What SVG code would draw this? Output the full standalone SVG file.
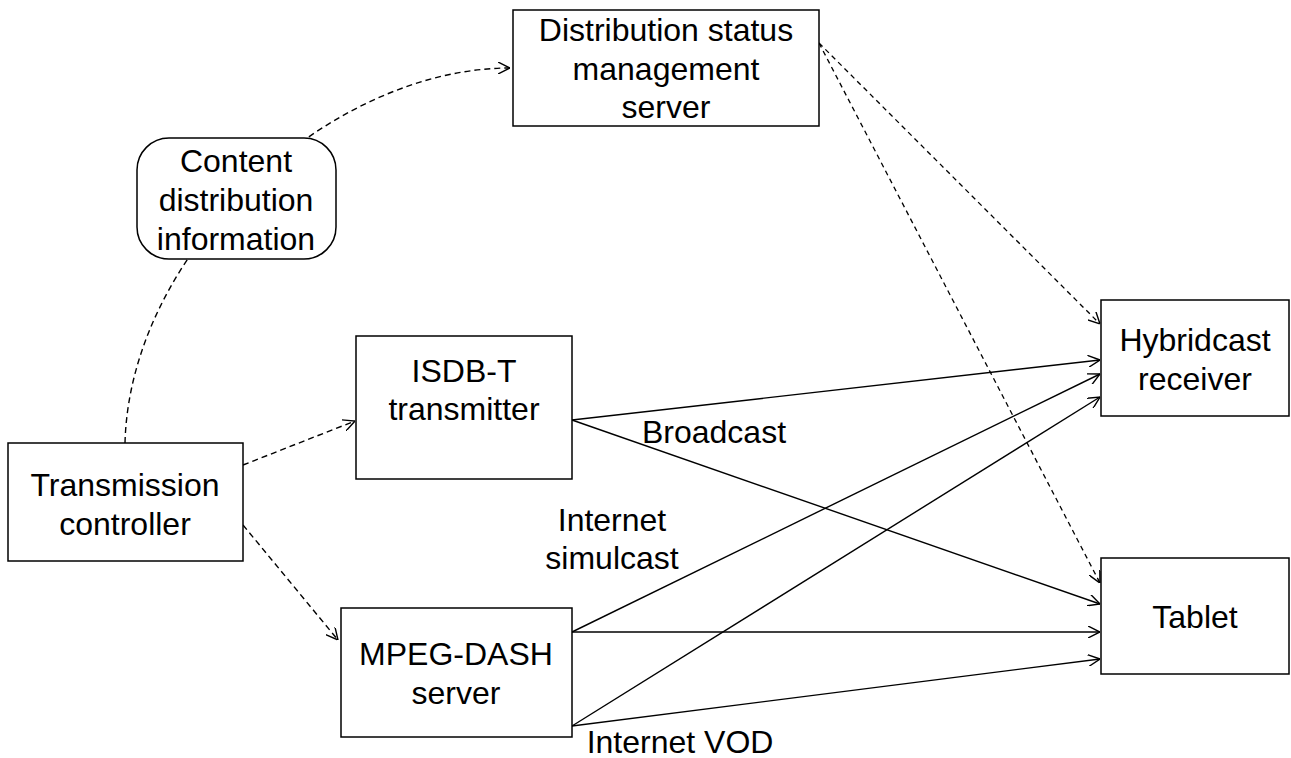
<svg xmlns="http://www.w3.org/2000/svg" width="1291" height="758" viewBox="0 0 1291 758">
  <style>
    .box { fill: #fff; stroke: #000; stroke-width: 1.5; }
    .lbl { font-family: "Liberation Sans", Arial, sans-serif; font-size: 32px; fill: #000; text-anchor: middle; }
    .solid { fill: none; stroke: #000; stroke-width: 1.4; }
    .dash { fill: none; stroke: #000; stroke-width: 1.4; stroke-dasharray: 6 4; }
    .dash2 { fill: none; stroke: #000; stroke-width: 1.3; stroke-dasharray: 5 4; }
  </style>
  <defs>
    <marker id="arr" viewBox="0 0 12 12" markerWidth="12" markerHeight="12" refX="12" refY="6" orient="auto" markerUnits="userSpaceOnUse">
      <path d="M0,0 L12,6 L0,12" fill="none" stroke="#000" stroke-width="1.4"/>
    </marker>
  </defs>
  <rect width="1291" height="758" fill="#fff"/>

  <!-- connectors -->
  <g id="connectors">
    <path class="dash" d="M125,443 C130,250 330,68 510,68" marker-end="url(#arr)"/>
    <line class="dash" x1="243" y1="465" x2="355" y2="421" marker-end="url(#arr)"/>
    <line class="dash" x1="243" y1="525" x2="338" y2="640" marker-end="url(#arr)"/>
    <line class="dash2" x1="819" y1="43" x2="1100" y2="324" marker-end="url(#arr)"/>
    <line class="dash2" x1="819" y1="43" x2="1100" y2="583" marker-end="url(#arr)"/>
    <line class="solid" x1="572" y1="420" x2="1100" y2="360" marker-end="url(#arr)"/>
    <line class="solid" x1="572" y1="420" x2="1100" y2="604" marker-end="url(#arr)"/>
    <line class="solid" x1="572" y1="632" x2="1100" y2="374" marker-end="url(#arr)"/>
    <line class="solid" x1="572" y1="632" x2="1100" y2="632" marker-end="url(#arr)"/>
    <line class="solid" x1="572" y1="726" x2="1100" y2="397" marker-end="url(#arr)"/>
    <line class="solid" x1="572" y1="726" x2="1100" y2="659" marker-end="url(#arr)"/>
  </g>

  <!-- connector labels -->
  <g id="labels">
    <text class="lbl" x="714" y="443">Broadcast</text>
    <text class="lbl" x="612" y="531">Internet</text>
    <text class="lbl" x="612" y="569">simulcast</text>
    <text class="lbl" x="680" y="753">Internet VOD</text>
  </g>

  <g id="dist-status-server">
    <rect class="box" x="513" y="10" width="306" height="116"/>
    <text class="lbl" x="666" y="41">Distribution status</text>
    <text class="lbl" x="666" y="80">management</text>
    <text class="lbl" x="666" y="118">server</text>
  </g>

  <g id="content-info">
    <rect class="box" x="137" y="138" width="199" height="121" rx="32" ry="32"/>
    <text class="lbl" x="236" y="172">Content</text>
    <text class="lbl" x="236" y="211">distribution</text>
    <text class="lbl" x="236" y="250">information</text>
  </g>

  <g id="transmission-controller">
    <rect class="box" x="8" y="443" width="235" height="118"/>
    <text class="lbl" x="125" y="496">Transmission</text>
    <text class="lbl" x="125" y="535">controller</text>
  </g>

  <g id="isdb-t">
    <rect class="box" x="356" y="336" width="216" height="143"/>
    <text class="lbl" x="464" y="382">ISDB-T</text>
    <text class="lbl" x="464" y="420">transmitter</text>
  </g>

  <g id="mpeg-dash">
    <rect class="box" x="341" y="608" width="231" height="129"/>
    <text class="lbl" x="456" y="665">MPEG-DASH</text>
    <text class="lbl" x="456" y="704">server</text>
  </g>

  <g id="hybridcast">
    <rect class="box" x="1101" y="300" width="188" height="116"/>
    <text class="lbl" x="1195" y="351">Hybridcast</text>
    <text class="lbl" x="1195" y="390">receiver</text>
  </g>

  <g id="tablet">
    <rect class="box" x="1101" y="558" width="188" height="116"/>
    <text class="lbl" x="1195" y="628">Tablet</text>
  </g>
</svg>
